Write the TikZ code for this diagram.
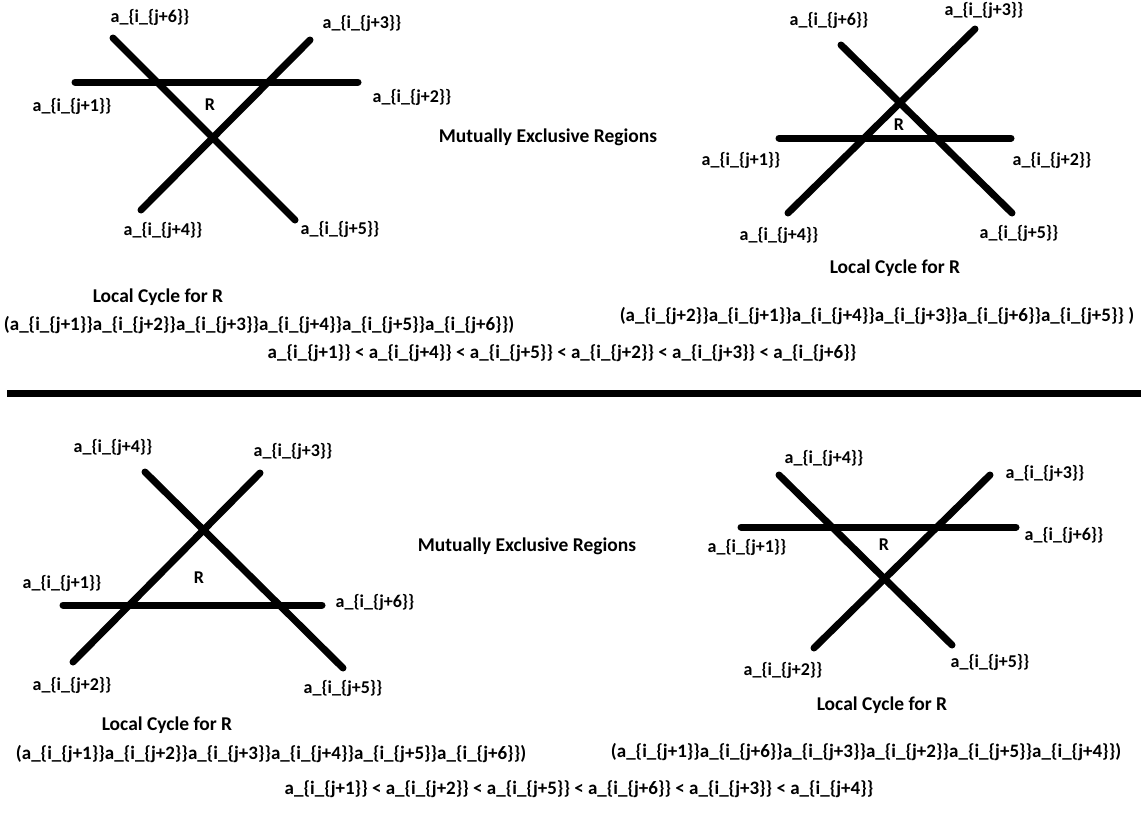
\documentclass[tikz,border=0pt]{standalone}
\usepackage{fontspec}
\setmainfont{Carlito}
\newcommand\aij[1]{a\_\{i\_\{j+#1\}\}}
\begin{document}
\begin{tikzpicture}[x=1pt,y=-1pt,
  lbl/.style={font=\bfseries\fontsize{18}{21}\selectfont, inner sep=0pt},
  big/.style={font=\bfseries\fontsize{19.5}{23}\selectfont, inner sep=0pt},
  txt/.style={font=\bfseries\fontsize{19}{22}\selectfont, inner sep=0pt},
  bar/.style={line width=7pt, line cap=round},
  sep/.style={line width=7pt}]
\useasboundingbox (0,0) rectangle (1141,814);
\fill[white] (0,0) rectangle (1141,814);

% ---------- panel 1 (top left)
\coordinate (p1a1) at (113,38);  \coordinate (p1a2) at (295,220);
\coordinate (p1b1) at (310,40);  \coordinate (p1b2) at (141,210);
\coordinate (p1h1) at (75,82);   \coordinate (p1h2) at (358,82);
\draw[bar] (p1a1) -- (p1a2);
\draw[bar] (p1b1) -- (p1b2);
\draw[bar] (p1h1) -- (p1h2);
\node[lbl] (l1j6) at (150,17) {\aij{6}};
\node[lbl] (l1j3) at (362,23) {\aij{3}};
\node[lbl] (l1j1) at (72,106) {\aij{1}};
\node[lbl] (l1j2) at (412,97) {\aij{2}};
\node[lbl] (l1R) at (210,105) {R};
\node[lbl] (l1j4) at (163,230) {\aij{4}};
\node[lbl] (l1j5) at (340,229) {\aij{5}};
\node[big] (mer1) at (548,137) {Mutually Exclusive Regions};
\node[big] (lcr1) at (158,297) {Local Cycle for R};
\node[txt] (cyc1) at (259,325) {(\aij{1}\aij{2}\aij{3}\aij{4}\aij{5}\aij{6})};

% ---------- panel 2 (top right)
\coordinate (p2a1) at (841,45);  \coordinate (p2a2) at (1012,213);
\coordinate (p2b1) at (975,29);  \coordinate (p2b2) at (788,213);
\coordinate (p2h1) at (779,138); \coordinate (p2h2) at (1011,138);
\draw[bar] (p2a1) -- (p2a2);
\draw[bar] (p2b1) -- (p2b2);
\draw[bar] (p2h1) -- (p2h2);
\node[lbl] (l2j6) at (829,20) {\aij{6}};
\node[lbl] (l2j3) at (984,10) {\aij{3}};
\node[lbl] (l2j1) at (741,160) {\aij{1}};
\node[lbl] (l2j2) at (1052,160) {\aij{2}};
\node[lbl] (l2R) at (899,125) {R};
\node[lbl] (l2j4) at (779,235) {\aij{4}};
\node[lbl] (l2j5) at (1019,233) {\aij{5}};
\node[big] (lcr2) at (895,268) {Local Cycle for R};
\node[txt] (cyc2) at (877,316) {(\aij{2}\aij{1}\aij{4}\aij{3}\aij{6}\aij{5} )};

\node[txt] (ineq1) at (562,353) {\aij{1} < \aij{4} < \aij{5} < \aij{2} < \aij{3} < \aij{6}};

% ---------- separator
\coordinate (sepL) at (7,393.5); \coordinate (sepR) at (1141,393.5);
\draw[sep] (sepL) -- (sepR);

% ---------- panel 3 (bottom left)
\coordinate (p3a1) at (145,472); \coordinate (p3a2) at (343,668);
\coordinate (p3b1) at (260,473); \coordinate (p3b2) at (73,662);
\coordinate (p3h1) at (63,605);  \coordinate (p3h2) at (322,605);
\draw[bar] (p3a1) -- (p3a2);
\draw[bar] (p3b1) -- (p3b2);
\draw[bar] (p3h1) -- (p3h2);
\node[lbl] (l3j4) at (113,447) {\aij{4}};
\node[lbl] (l3j3) at (293,451) {\aij{3}};
\node[lbl] (l3j1) at (62,583) {\aij{1}};
\node[lbl] (l3j6) at (375,602) {\aij{6}};
\node[lbl] (l3R) at (199,578) {R};
\node[lbl] (l3j2) at (72,685) {\aij{2}};
\node[lbl] (l3j5) at (343,688) {\aij{5}};
\node[big] (mer2) at (527,546) {Mutually Exclusive Regions};
\node[big] (lcr3) at (167,725) {Local Cycle for R};
\node[txt] (cyc3) at (271,754) {(\aij{1}\aij{2}\aij{3}\aij{4}\aij{5}\aij{6})};

% ---------- panel 4 (bottom right)
\coordinate (p4a1) at (779,475); \coordinate (p4a2) at (952,645);
\coordinate (p4b1) at (990,475); \coordinate (p4b2) at (814,648);
\coordinate (p4h1) at (741,527); \coordinate (p4h2) at (1016,527);
\draw[bar] (p4a1) -- (p4a2);
\draw[bar] (p4b1) -- (p4b2);
\draw[bar] (p4h1) -- (p4h2);
\node[lbl] (l4j4) at (824,458) {\aij{4}};
\node[lbl] (l4j3) at (1045,473) {\aij{3}};
\node[lbl] (l4j1) at (747,547) {\aij{1}};
\node[lbl] (l4j6) at (1064,535) {\aij{6}};
\node[lbl] (l4R) at (884,545) {R};
\node[lbl] (l4j2) at (783,670) {\aij{2}};
\node[lbl] (l4j5) at (990,662) {\aij{5}};
\node[big] (lcr4) at (882,705) {Local Cycle for R};
\node[txt] (cyc4) at (866,752) {(\aij{1}\aij{6}\aij{3}\aij{2}\aij{5}\aij{4})};

\node[txt] (ineq2) at (579,789) {\aij{1} < \aij{2} < \aij{5} < \aij{6} < \aij{3} < \aij{4}};
\end{tikzpicture}
\end{document}
